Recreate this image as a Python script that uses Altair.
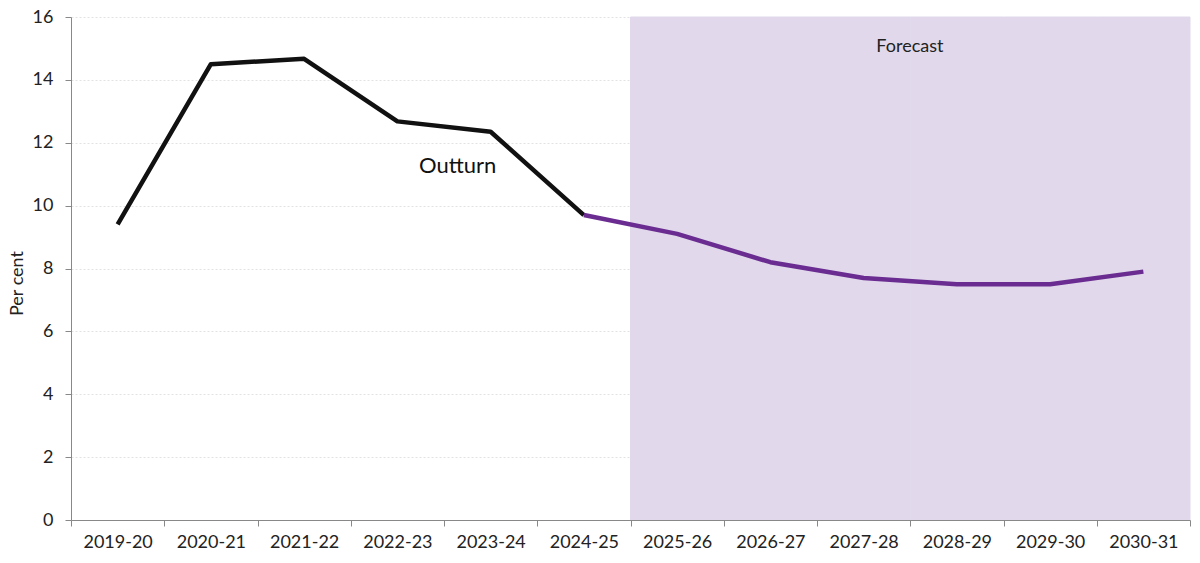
import altair as alt
import pandas as pd

years = ["2019-20", "2020-21", "2021-22", "2022-23", "2023-24", "2024-25",
         "2025-26", "2026-27", "2027-28", "2028-29", "2029-30", "2030-31"]
values = [9.4, 14.5, 14.67, 12.68, 12.35, 9.7, 9.1, 8.2, 7.7, 7.5, 7.5, 7.9]
outturn_years = years[:6]
forecast_years = years[5:]
shade_years = years[6:]

FONT = "Lato"
W, H = 1119, 503

line_df = pd.DataFrame({"year": years, "value": values})
out_df = line_df[line_df.year.isin(outturn_years)]
fc_df = line_df[line_df.year.isin(forecast_years)]
shade_df = pd.DataFrame({"year": shade_years, "lo": 0, "hi": 16})
labels_df = pd.DataFrame({"year": ["2023-24", "2028-29"], "value": [11.25, 15.05],
                          "text": ["Outturn", "Forecast"]})

xscale = alt.Scale(domain=years, paddingInner=0, paddingOuter=0)
yscale = alt.Scale(domain=[0, 16], nice=False)

xaxis = alt.Axis(title=None, tickBand="extent", labelAngle=0, labelFontSize=18,
                 labelColor="#222", labelFont=FONT, domainColor="#888",
                 tickColor="#888", tickSize=6, labelPadding=7, grid=False)
yaxis = alt.Axis(title="Per cent", titleFontSize=18, titleFontWeight="normal",
                 titleFont=FONT, titleColor="#222", titleX=-54, titleY=266,
                 titleAngle=270, titleAlign="center", titleBaseline="middle",
                 values=list(range(0, 17, 2)), labelFontSize=18, labelColor="#222",
                 labelFont=FONT, domainColor="#888", tickColor="#888", tickSize=6,
                 labelPadding=12, grid=True, gridColor="#e2e2e2", gridDash=[2, 2])

shade = alt.Chart(shade_df).mark_rect(color="#e1d9eb", stroke="#e1d9eb", strokeWidth=1).encode(
    x=alt.X("year:N", scale=xscale, axis=xaxis, sort=years),
    y=alt.Y("lo:Q", scale=yscale, axis=yaxis),
    y2="hi:Q",
)

out_line = alt.Chart(out_df).mark_line(color="#111111", strokeWidth=4.5, strokeJoin="round").encode(
    x=alt.X("year:N", scale=xscale, sort=years),
    y=alt.Y("value:Q", scale=yscale),
)
fc_line = alt.Chart(fc_df).mark_line(color="#6a2c91", strokeWidth=4.5, strokeJoin="round").encode(
    x=alt.X("year:N", scale=xscale, sort=years),
    y=alt.Y("value:Q", scale=yscale),
)

out_lab = alt.Chart(labels_df.iloc[[0]]).mark_text(font=FONT, fontSize=22, color="#111", dx=-33).encode(
    x=alt.X("year:N", scale=xscale, sort=years),
    y=alt.Y("value:Q", scale=yscale),
    text="text:N",
)
fc_lab = alt.Chart(labels_df.iloc[[1]]).mark_text(font=FONT, fontSize=18, color="#222", dx=-47).encode(
    x=alt.X("year:N", scale=xscale, sort=years),
    y=alt.Y("value:Q", scale=yscale),
    text="text:N",
)

chart = alt.layer(shade, out_line, fc_line, out_lab, fc_lab).properties(
    width=W, height=H,
    autosize=alt.AutoSizeParams(type="none"),
    padding={"left": 71, "top": 17, "right": 10, "bottom": 43},
    background="white",
).configure_view(stroke=None)

chart.save("out.html", embed_options={"renderer": "svg", "actions": False})
